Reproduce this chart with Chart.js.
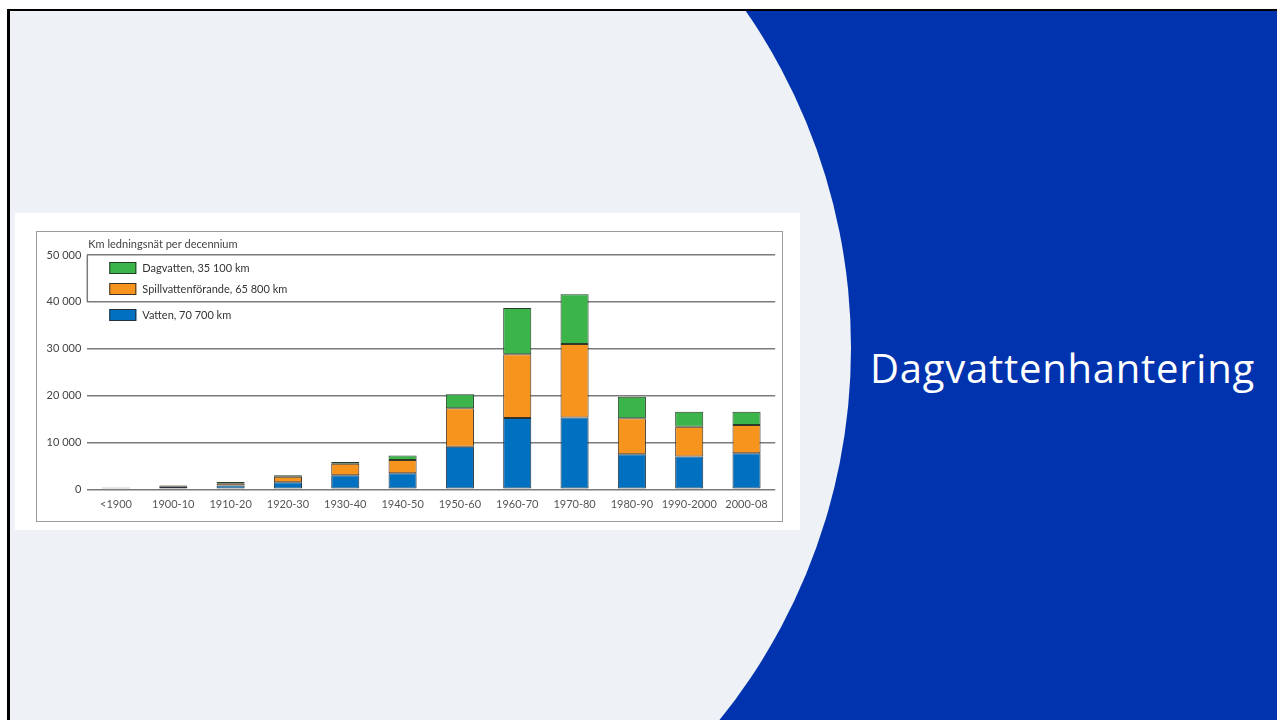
<!DOCTYPE html>
<html>
<head>
<meta charset="utf-8">
<script src="https://cdn.jsdelivr.net/npm/chart.js@4.4.1/dist/chart.umd.min.js"></script>
<style>
  html, body { margin: 0; padding: 0; width: 1277px; height: 720px; overflow: hidden; background: #fff; }
  #slide { position: absolute; left: 7px; top: 9px; width: 1270px; height: 711px; background: #0033ad;
           border-left: 3px solid #000; border-top: 2px solid #000; overflow: hidden; }
  #circle { position: absolute; left: -343px; top: -255px; width: 1184px; height: 1184px; border-radius: 50%; background: #eef1f5; }
  #card { position: absolute; left: 15px; top: 213px; width: 785px; height: 317px; background: #fff; }
  #frame { position: absolute; left: 36px; top: 231px; width: 745px; height: 289px; border: 1px solid #9c9c9c; }
  #frame canvas { display: block; }
  #heading { position: absolute; left: 870px; top: 348px; font-family: 'Open Sans', sans-serif; font-size: 40px;
             line-height: 40px; letter-spacing: 0.75px; color: #fff; white-space: nowrap; }
</style>
</head>
<body>
<div id="slide"><div id="circle"></div></div>
<div id="card"></div>
<div id="frame"><canvas id="chart" width="745" height="289"></canvas></div>
<div id="heading">Dagvattenhantering</div>

<script>
const categories = ['<1900', '1900-10', '1910-20', '1920-30', '1930-40', '1940-50', '1950-60', '1960-70', '1970-80', '1980-90', '1990-2000', '2000-08'];
const vatten = [250, 550, 800, 1500, 3000, 3400, 9100, 15200, 15300, 7500, 7000, 7700];
const spillvatten = [100, 250, 500, 1200, 2450, 2850, 8200, 13600, 15700, 7650, 6350, 6000];
const dagvatten = [50, 50, 250, 300, 400, 950, 3000, 9900, 10600, 4600, 3200, 2850];
const seriesLabels = ['Vatten, 70 700 km', 'Spillvattenförande, 65 800 km', 'Dagvatten, 35 100 km'];
const yTicks = [0, 10000, 20000, 30000, 40000, 50000];
const axisTitle = 'Km ledningsnät per decennium';

const fontFamily = 'Lato, sans-serif';

// tusental med mellanslag: 50 000
const fmt = v => String(v).replace(/\B(?=(\d{3})+(?!\d))/g, ' ');

// titel, legend och ramen runt legenden ritas själv
const extras = {
    id: 'extras',
    afterDraw(chart) {
        const { ctx, chartArea, scales } = chart;
        const y = scales.y;
        ctx.save();
        ctx.strokeStyle = '#7a7a7a';
        ctx.lineWidth = 1.5;
        ctx.beginPath();
        ctx.moveTo(chartArea.left, y.getPixelForValue(yTicks[5]));
        ctx.lineTo(chartArea.left, y.getPixelForValue(yTicks[4]));
        ctx.stroke();

        ctx.font = '11px ' + fontFamily;
        ctx.textBaseline = 'middle';
        ctx.fillStyle = '#444';
        ctx.fillText(axisTitle, chartArea.left + 1, chartArea.top - 11);

        const rows = [13, 34, 60];
        chart.data.datasets.slice().reverse().forEach((ds, i) => {
            const cy = chartArea.top + rows[i];
            const bx = chartArea.left + 22;
            ctx.fillStyle = ds.backgroundColor;
            ctx.fillRect(bx, cy - 6, 27, 12);
            ctx.strokeStyle = ds.borderColor;
            ctx.lineWidth = 1;
            ctx.strokeRect(bx + 0.5, cy - 5.5, 26, 11);
            ctx.fillStyle = '#333';
            ctx.fillText(ds.label, bx + 33, cy);
        });
        ctx.restore();
    }
};

const ctx = document.getElementById('chart').getContext('2d');
new Chart(ctx, {
    type: 'bar',
    data: {
        labels: categories,
        datasets: [
            { label: seriesLabels[0], data: vatten, backgroundColor: '#0070c0', borderColor: '#26313d', borderWidth: 1, borderSkipped: false },
            { label: seriesLabels[1], data: spillvatten, backgroundColor: '#f7941d', borderColor: '#3d3226', borderWidth: 1, borderSkipped: false },
            { label: seriesLabels[2], data: dagvatten, backgroundColor: '#3bb54a', borderColor: '#263d29', borderWidth: 1, borderSkipped: false }
        ]
    },
    options: {
        responsive: false,
        animation: false,
        categoryPercentage: 1,
        barPercentage: 0.49,
        layout: { padding: { left: 0, right: 6.8, top: 23, bottom: 0 } },
        plugins: {
            legend: { display: false },
            tooltip: { enabled: false }
        },
        scales: {
            x: {
                stacked: true,
                grid: { display: false, drawTicks: false },
                border: { display: false },
                ticks: { color: '#555', font: { family: fontFamily, size: 11 }, padding: 9, maxRotation: 0, autoSkip: false },
                afterFit(scale) { scale.height = 31.7; }
            },
            y: {
                stacked: true,
                min: 0,
                max: 50000,
                grid: { color: '#7a7a7a', lineWidth: 1.5, drawTicks: false },
                border: { display: false },
                ticks: { color: '#444', padding: 6, font: { family: fontFamily, size: 11 }, callback: v => fmt(v) },
                afterBuildTicks(scale) { scale.ticks = yTicks.map(v => ({ value: v })); },
                afterFit(scale) { scale.width = 50.3; }
            }
        }
    },
    plugins: [extras]
});
</script>
</body>
</html>
